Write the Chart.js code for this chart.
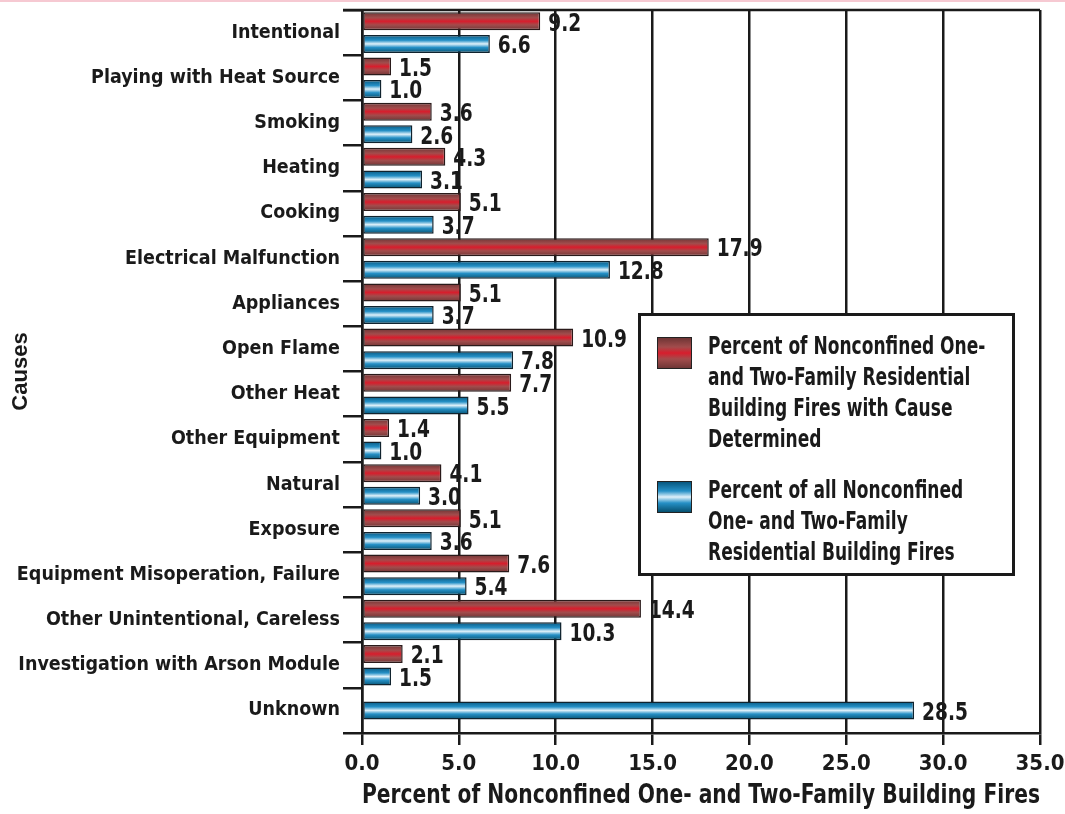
<!DOCTYPE html>
<html>
<head>
<meta charset="utf-8">
<script src="https://cdn.jsdelivr.net/npm/chart.js@4.4.1/dist/chart.umd.min.js"></script>
<style>
  html, body { margin: 0; padding: 0; background: #fff; }
  #wrap { position: relative; width: 1065px; height: 814px; }
  #topline { position: absolute; left: 0; top: 0; width: 1065px; height: 2px; background: #f6c9d2; }
  #legend {
    position: absolute; left: 638px; top: 313px; width: 371px; height: 257px;
    border: 3px solid #1a1a1a; background: #fff;
    font-family: "DejaVu Sans Condensed", "Liberation Sans Narrow", sans-serif;
    font-weight: bold; font-size: 24px; line-height: 31px; color: #1a1a1a;
  }
  .item { position: absolute; left: 16px; width: 340px; }
  .swatch { position: absolute; left: 0; top: 4px; width: 35px; height: 32px; border: 1.5px solid #222; box-sizing: border-box; }
  .text { position: absolute; left: 51px; width: 400px; white-space: nowrap; transform: scaleX(0.79); transform-origin: 0 0; }
</style>
</head>
<body>
<div id="wrap">
  <canvas id="chart" width="1065" height="814"></canvas>
  <div id="topline"></div>
  <div id="legend"></div>
</div>
<script>
const causes = [
  "Intentional",
  "Playing with Heat Source",
  "Smoking",
  "Heating",
  "Cooking",
  "Electrical Malfunction",
  "Appliances",
  "Open Flame",
  "Other Heat",
  "Other Equipment",
  "Natural",
  "Exposure",
  "Equipment Misoperation, Failure",
  "Other Unintentional, Careless",
  "Investigation with Arson Module",
  "Unknown"
];
const pctDetermined = [9.2, 1.5, 3.6, 4.3, 5.1, 17.9, 5.1, 10.9, 7.7, 1.4, 4.1, 5.1, 7.6, 14.4, 2.1, null];
const pctAll = [6.6, 1.0, 2.6, 3.1, 3.7, 12.8, 3.7, 7.8, 5.5, 1.0, 3.0, 3.6, 5.4, 10.3, 1.5, 28.5];
// legend text, line by line as in the original box
const legendDetermined = ["Percent of Nonconfined One-", "and Two-Family Residential", "Building Fires with Cause", "Determined"];
const legendAll = ["Percent of all Nonconfined", "One- and Two-Family", "Residential Building Fires"];
const xTicks = [0, 5, 10, 15, 20, 25, 30, 35];

const cond = "'DejaVu Sans Condensed', 'Liberation Sans Narrow', sans-serif";
const ink = "#1a1a1a";

// vertical gradient stops for each series (top -> bottom of a bar)
const barStops = [
  [[0, "#6f3535"], [0.3, "#a24c4c"], [0.5, "#d81d2c"], [0.7, "#a24c4c"], [1, "#6f3535"]],
  [[0, "#07577f"], [0.3, "#2590c6"], [0.5, "#dff1fa"], [0.7, "#2590c6"], [1, "#07506f"]]
];

function cssGradient(stops) {
  return "linear-gradient(to bottom, " + stops.map(s => `${s[1]} ${s[0] * 100}%`).join(", ") + ")";
}

const gradientBars = {
  id: "gradientBars",
  beforeDatasetsDraw(chart) {
    const ctx = chart.ctx;
    chart.data.datasets.forEach((ds, i) => {
      chart.getDatasetMeta(i).data.forEach(bar => {
        const top = bar.y - bar.height / 2;
        const g = ctx.createLinearGradient(0, top, 0, top + bar.height);
        barStops[i].forEach(s => g.addColorStop(s[0], s[1]));
        bar.options = Object.assign({}, bar.options, { backgroundColor: g });
      });
    });
  }
};

const valueLabels = {
  id: "valueLabels",
  afterDatasetsDraw(chart) {
    const ctx = chart.ctx;
    chart.data.datasets.forEach((ds, i) => {
      chart.getDatasetMeta(i).data.forEach((bar, j) => {
        const v = ds.data[j];
        if (v === null) return;
        ctx.save();
        ctx.translate(bar.x + 8, bar.y + 3);
        ctx.scale(0.86, 1);
        ctx.font = "bold 24px " + cond;
        ctx.fillStyle = ink;
        ctx.textAlign = "left";
        ctx.textBaseline = "middle";
        ctx.fillText(v.toFixed(1), 0, 0);
        ctx.restore();
      });
    });
  }
};

const topFrame = {
  id: "topFrame",
  afterDraw(chart) {
    const a = chart.chartArea;
    const ctx = chart.ctx;
    ctx.save();
    ctx.strokeStyle = ink;
    ctx.lineWidth = 2.5;
    ctx.beginPath();
    ctx.moveTo(a.left - 19, a.top);
    ctx.lineTo(a.right, a.top);
    ctx.stroke();
    ctx.restore();
  }
};

new Chart(document.getElementById("chart"), {
  type: "bar",
  data: {
    labels: causes,
    datasets: [
      {
        label: legendDetermined.join(" "),
        data: pctDetermined,
        backgroundColor: "#a24c4c",
        borderColor: "#2a1a1a",
        borderWidth: 1.5,
        borderSkipped: false
      },
      {
        label: legendAll.join(" "),
        data: pctAll,
        backgroundColor: "#2590c6",
        borderColor: "#10232e",
        borderWidth: 1.5,
        borderSkipped: false
      }
    ]
  },
  options: {
    indexAxis: "y",
    responsive: false,
    animation: false,
    skipNull: true,
    categoryPercentage: 1,
    barPercentage: 0.8,
    maxBarThickness: 18,
    layout: { padding: { top: 0, left: 0, right: 0, bottom: 0 } },
    plugins: {
      legend: { display: false },
      tooltip: { enabled: false }
    },
    scales: {
      x: {
        min: 0,
        max: 35,
        afterBuildTicks: scale => { scale.ticks = xTicks.map(v => ({ value: v })); },
        afterFit: scale => { scale.height = 81; scale.paddingRight = 25; },
        ticks: {
          callback: v => Number(v).toFixed(1),
          color: ink,
          font: { family: cond, weight: "bold", size: 22 },
          padding: 6
        },
        grid: { color: ink, lineWidth: 2.5, tickLength: 12, drawTicks: true },
        border: { color: ink, width: 2.5 },
        title: {
          display: true,
          text: "Percent of Nonconfined One- and Two-Family Building Fires",
          color: ink,
          font: { family: cond, weight: "bold", size: 26 },
          padding: { top: 0, bottom: 2 }
        }
      },
      y: {
        afterFit: scale => { scale.width = 362; scale.paddingTop = 10; scale.paddingBottom = 0; },
        ticks: {
          color: ink,
          font: { family: cond, weight: "bold", size: 19.5 },
          padding: 3
        },
        grid: { offset: true, drawOnChartArea: false, color: ink, lineWidth: 2.5, tickLength: 19 },
        border: { color: ink, width: 2.5 },
        title: {
          display: true,
          text: "Causes",
          color: ink,
          font: { family: "'Liberation Sans', Arial, sans-serif", weight: "bold", size: 22 },
          padding: { top: 8, bottom: 0 }
        }
      }
    }
  },
  plugins: [gradientBars, valueLabels, topFrame]
});

// legend box, built from the legend line arrays
const legendEl = document.getElementById("legend");
const legendItems = [
  { lines: legendDetermined, top: 17 },
  { lines: legendAll, top: 161 }
];
legendItems.forEach((item, i) => {
  legendEl.innerHTML += `
    <div class="item" style="top:${item.top}px">
      <div class="swatch" style="background:${cssGradient(barStops[i])}"></div>
      <div class="text" style="top:-2px">${item.lines.join("<br>")}</div>
    </div>`;
});
</script>
</body>
</html>
